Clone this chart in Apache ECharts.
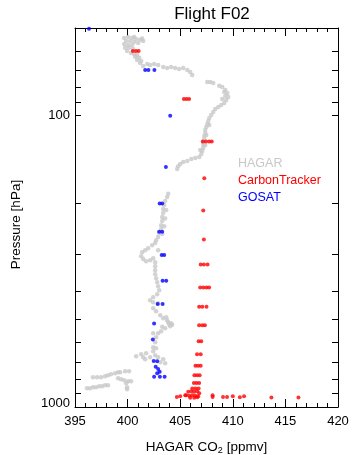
<!DOCTYPE html>
<html>
<head>
<meta charset="utf-8">
<script src="https://cdn.jsdelivr.net/npm/echarts@6/dist/echarts.min.js"></script>
<style>
html, body { margin: 0; padding: 0; background: #ffffff; }
#chart { width: 352px; height: 455px; }
</style>
</head>
<body>
<div id="chart"></div>
<script>
// HAGAR in-situ CO2 profile, flight F02: [CO2 ppmv, pressure hPa]
const hagarPoints = [
  [399.67,54.1],[400.05,53.7],[400.43,54.1],[400.81,54.5],[401.19,54.9],[401.48,55.4],
  [400.62,53.7],[401.38,54.3],[399.86,55.4],[400.24,55.4],[400.62,55.8],[401.0,56.3],
  [399.67,56.7],[400.05,57.2],[400.43,57.2],[399.76,58.5],[400.14,58.5],[400.52,59.0],
  [399.95,60.0],[400.33,60.9],[400.62,61.4],[400.9,61.9],[400.71,62.8],[401.1,63.3],
  [400.9,64.4],[401.29,64.9],[401.19,65.9],
  [401.48,67.5],[401.86,66.5],[402.14,67.0],[402.52,66.5],[402.9,67.0],[403.38,68.1],
  [403.76,68.6],[404.14,68.1],[404.52,68.6],[404.9,69.2],[405.29,68.6],[405.67,69.7],
  [405.95,70.8],[406.14,72.5],
  [407.57,76.6],[407.86,76.6],[408.14,77.2],[408.71,79.0],[409.0,79.7],[409.29,81.6],
  [409.48,83.6],[409.57,86.2],[409.38,88.3],[409.19,90.4],[408.9,91.9],[408.62,93.3],
  [408.33,94.8],[408.14,97.1],[407.95,99.4],[407.76,101.8],[407.67,104.3],[407.57,106.8],
  [407.48,109.4],[407.38,112.0],[407.38,114.7],[407.29,117.4],[407.29,120.2],[407.19,123.1],
  [407.19,126.1],[407.19,129.2],[407.1,132.2],[407.0,135.4],[406.81,138.7],[406.43,139.8],
  [406.05,140.9],[405.67,143.1],[405.29,144.3],[405.0,146.6],[404.81,149.0],[404.71,152.5],
  [409.19,82.9],[409.29,85.6],[409.0,87.6],[407.76,107.6],[407.48,116.5],[406.9,131.2],
  [407.38,126.1],
  [403.86,185.4],[403.76,190.3],[403.57,196.4],[403.48,202.7],[403.38,209.2],[403.38,216.0],
  [403.29,222.9],[403.29,230.0],[403.19,237.5],[403.19,245.1],[403.0,253.0],[402.9,261.1],
  [402.71,267.4],[402.62,273.8],[402.33,278.2],[401.95,285.0],[401.67,289.4],[401.38,294.0],
  [401.29,303.5],[401.48,310.7],[401.76,315.7],[402.14,313.2],[402.43,308.3],[402.62,318.2],
  [402.62,328.5],[402.62,339.0],[402.62,350.0],[402.71,361.3],[402.81,372.9],[402.9,384.8],
  [403.0,397.2],[402.81,409.9],[402.43,419.8],[402.14,429.9],
  [403.67,210.9],[403.57,225.6],[403.48,239.4],[403.29,255.0],[402.9,289.4],
  [402.43,436.7],[402.9,440.2],[402.43,458.0],[402.71,469.0],[403.1,484.1],[403.38,495.7],
  [403.67,491.8],[403.86,511.6],[404.05,528.1],[403.57,536.6],[403.19,549.4],[402.9,558.1],
  [402.43,558.1],[402.71,576.1],[402.62,599.2],[402.43,623.5],[402.71,628.5],[402.43,643.6],
  [401.76,653.8],[401.29,659.0],[400.81,669.5],[401.48,674.8],[402.14,674.8],[402.62,664.2],
  [402.9,674.8],[403.38,685.6],[403.1,702.1],[403.57,707.7],[401.67,685.6],[403.95,519.8],
  [404.14,515.7],[403.76,503.6],[404.24,522.0],[403.29,530.0],
  [396.14,862.5],[396.43,862.5],[396.71,855.7],[397.0,855.7],[397.29,849.0],[397.57,849.0],
  [397.86,842.3],[398.14,842.3],[396.71,790.6],[397.1,790.6],[397.48,790.6],[397.86,784.4],
  [398.14,778.2],[398.43,772.2],[398.81,766.0],[399.1,759.9],[399.29,759.9],[399.76,754.0],
  [400.14,754.0],[399.1,796.9],[399.38,803.2],[399.67,809.6],[400.05,816.0],[400.33,816.0],
  [399.86,829.0],[399.95,855.7],[399.95,869.3]
];

// CarbonTracker model CO2 sampled along the flight track
const carbonTrackerPoints = [
  [400.5,60.0],[400.8,60.0],[401.05,60.0],
  [405.35,87.6],[405.6,87.6],[405.85,87.6],
  [407.15,122.6],[407.45,122.6],[407.75,122.6],[408.0,122.6],
  [407.29,164],[407.19,211.5],[407.25,266],
  [406.95,324],[407.25,324],[407.6,324],
  [406.9,389],[407.2,389],[407.5,389],[407.75,389],
  [406.8,453],[407.1,453],[407.5,453],
  [406.8,524],[407.1,524],[407.35,524],
  [406.75,595],[407.0,595],
  [406.6,659],[406.95,659],
  [406.45,722],[406.7,722],[406.95,722],
  [406.35,778],[406.6,778],[406.85,778],
  [406.3,828],[406.55,828],[406.8,828],
  [406.15,864],[406.45,864],[406.75,864],
  [405.76,887],[406.05,883.7],[406.33,887],[406.62,883.7],[406.81,897],
  [405.57,911.6],[405.86,915],[406.14,911.6],[406.43,915],[406.71,918.9],
  [405.95,930],[406.33,930],[406.62,926],
  [404.68,924],[405.0,919],[405.48,912],[408.08,912],[408.08,924],[409.07,924],
  [409.45,924],[410.0,919],[410.67,926],[411.07,919],[413.67,928],[416.24,928]
];

// GOSAT retrieved CO2 profile
const gosatPoints = [
  [396.33,50.3],[401.67,69.7],[401.98,69.7],[402.55,69.7],[404.05,100],[403.64,150.1],
  [403.05,200],[403.29,200],[403.0,250.4],[403.29,250.4],[403.24,301],[403.48,301],
  [403.33,369],[403.67,369],[402.86,443],[403.33,443],[402.52,517],[402.4,587],
  [402.48,695],[402.81,697],[402.67,727],[402.9,740],[403.05,757],[402.81,766],
  [402.52,788],[403.07,788],[403.52,788]
];

// Axis ticks
const co2Range = [395, 420];
const pressureRange = [50, 1000];
const pressureTicks = [60, 70, 80, 90, 100, 200, 300, 400, 500, 600, 700, 800, 900, 1000];
const pressureLabels = [100, 1000];

const FONT = '"Liberation Sans", Arial, Helvetica, sans-serif';
const BLACK = '#000000';

function co2Axis(position, showLabels) {
  return {
    type: 'value',
    position: position,
    min: co2Range[0],
    max: co2Range[1],
    interval: 5,
    axisLine: { show: true, onZero: false, lineStyle: { color: BLACK, width: 1 } },
    axisTick: { show: true, inside: true, length: 8, lineStyle: { color: BLACK, width: 1 } },
    minorTick: { show: true, splitNumber: 5, length: 4, lineStyle: { color: BLACK, width: 1 } },
    splitLine: { show: false },
    minorSplitLine: { show: false },
    axisLabel: {
      show: showLabels, margin: 8, color: BLACK, fontSize: 13, fontFamily: FONT,
      formatter: v => String(Math.round(v))
    }
  };
}

function pressureAxis(position, showLabels) {
  return {
    type: 'log',
    logBase: 10,
    position: position,
    min: pressureRange[0],
    max: pressureRange[1],
    inverse: true,
    axisLine: { show: true, onZero: false, lineStyle: { color: BLACK, width: 1 } },
    axisTick: { show: true, inside: true, length: 6, customValues: pressureTicks,
                lineStyle: { color: BLACK, width: 1 } },
    splitLine: { show: false },
    axisLabel: {
      show: showLabels, margin: 5, color: BLACK, fontSize: 13, fontFamily: FONT,
      customValues: pressureLabels,
      // the bottom label sits slightly above the frame corner
      formatter: v => {
        const s = String(Math.round(v));
        return Math.round(v) >= 1000 ? '{low|' + s + '}' : s;
      },
      rich: { low: { fontSize: 13, fontFamily: FONT, color: BLACK, padding: [0, 0, 8, 0] } }
    }
  };
}

const xBottom = co2Axis('bottom', true);
xBottom.name = '{a|HAGAR CO}{s|2}{a| [ppmv]}';
xBottom.nameLocation = 'middle';
xBottom.nameGap = 33;
xBottom.nameTextStyle = {
  rich: {
    a: { fontSize: 13.5, fontFamily: FONT, color: BLACK, verticalAlign: 'top' },
    s: { fontSize: 9, fontFamily: FONT, color: BLACK, verticalAlign: 'top', padding: [6, 0, 0, 0] }
  }
};

const yLeft = pressureAxis('left', true);
yLeft.name = 'Pressure [hPa]';
yLeft.nameLocation = 'middle';
yLeft.nameGap = 52;
yLeft.nameTextStyle = { fontSize: 13.5, fontFamily: FONT, color: BLACK, padding: [0, 14, 0, 0] };

const chart = echarts.init(document.getElementById('chart'), null, { renderer: 'canvas' });
chart.setOption({
  animation: false,
  backgroundColor: '#ffffff',
  title: {
    text: 'Flight F02',
    left: 207,
    top: 1,
    textAlign: 'center',
    textStyle: { fontSize: 17, fontWeight: 'normal', color: BLACK, fontFamily: FONT }
  },
  legend: {
    orient: 'vertical',
    left: 228,
    top: 152,
    itemGap: 3,
    itemWidth: 0,
    itemHeight: 14,
    icon: 'rect',
    itemStyle: { opacity: 0 },
    selectedMode: false,
    textStyle: { fontSize: 12.5, fontFamily: FONT },
    data: [
      { name: 'HAGAR', textStyle: { color: '#c8c8c8' } },
      { name: 'CarbonTracker', textStyle: { color: '#ff0000' } },
      { name: 'GOSAT', textStyle: { color: '#0000ff' } }
    ]
  },
  grid: { left: 75, right: 14, top: 28, bottom: 48, containLabel: false, outerBoundsMode: 'none' },
  xAxis: [xBottom, co2Axis('top', false)],
  yAxis: [yLeft, pressureAxis('right', false)],
  series: [
    {
      name: 'HAGAR', type: 'scatter', xAxisIndex: 0, yAxisIndex: 0,
      symbol: 'circle', symbolSize: 4.5,
      itemStyle: { color: '#c8c8c8' },
      data: hagarPoints, z: 2
    },
    {
      name: 'CarbonTracker', type: 'scatter', xAxisIndex: 0, yAxisIndex: 0,
      symbol: 'circle', symbolSize: 4,
      itemStyle: { color: '#ff0000' },
      data: carbonTrackerPoints, z: 3
    },
    {
      name: 'GOSAT', type: 'scatter', xAxisIndex: 0, yAxisIndex: 0,
      symbol: 'circle', symbolSize: 4,
      itemStyle: { color: '#0000ff' },
      data: gosatPoints, z: 4
    }
  ]
});
</script>
</body>
</html>
